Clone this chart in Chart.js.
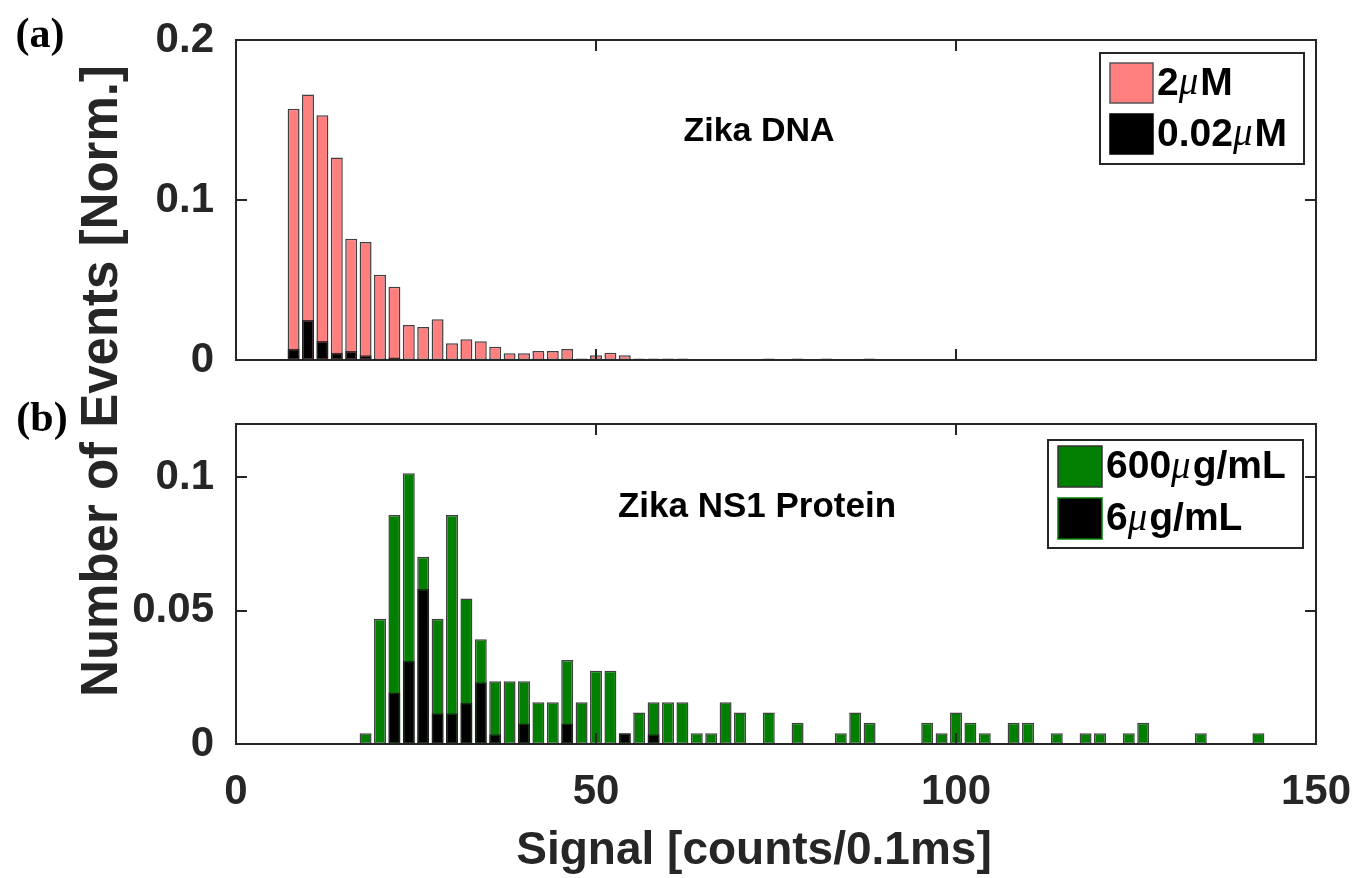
<!DOCTYPE html>
<html>
<head>
<meta charset="utf-8">
<script src="https://cdn.jsdelivr.net/npm/chart.js@4.4.1/dist/chart.umd.min.js"></script>
<style>
  html, body { margin: 0; padding: 0; background: #fff; }
  #wrap { position: relative; width: 1356px; height: 878px; }
  canvas { position: absolute; left: 0; top: 0; }
</style>
</head>
<body>
<div id="wrap">
  <canvas id="bottomChart" width="1356" height="878"></canvas>
  <canvas id="topChart" width="1356" height="400"></canvas>
</div>
<script>
// ---- data (bin centres in counts/0.1ms, width 2) ----
const xTicks = [0, 50, 100, 150];
const yTicksA = [0, 0.1, 0.2];
const yTicksB = [0, 0.05, 0.1];

// (a) Zika DNA
const dnaBins = [8, 10, 12, 14, 16, 18, 20, 22, 24, 26, 28, 30, 32, 34, 36, 38, 40, 42, 44, 46,
                 48, 50, 52, 54, 56, 58, 60, 62, 74, 78, 82, 88];
const dna2uM = [0.157, 0.166, 0.153, 0.1265, 0.0758, 0.0738, 0.0533, 0.0458, 0.0219, 0.0206,
                0.0254, 0.0104, 0.0129, 0.0117, 0.0083, 0.0042, 0.0042, 0.0056, 0.0056, 0.0069,
                0.001, 0.003, 0.0046, 0.003, 0.001, 0.001, 0.001, 0.001, 0.001, 0.001, 0.001, 0.001];
const dnaLowBins = [8, 10, 12, 14, 16, 18, 22];
const dna002uM = [0.0071, 0.025, 0.0119, 0.0046, 0.0056, 0.003, 0.0015];

// (b) Zika NS1 protein
const ns1Bins = [18, 20, 22, 24, 26, 28, 30, 32, 34, 36, 38, 40, 42, 44, 46, 48, 50, 52, 54, 56,
                 58, 60, 62, 64, 66, 68, 70, 74, 78, 84, 86, 88, 96, 98, 100, 102, 104, 108, 110,
                 114, 118, 120, 124, 126, 134, 142];
const ns1High = [0.004, 0.047, 0.0859, 0.1015, 0.0702, 0.047, 0.0859, 0.0546, 0.0393, 0.0235,
                 0.0235, 0.0235, 0.0157, 0.0157, 0.0315, 0.0157, 0.0275, 0.0275, 0.004, 0.0118,
                 0.0157, 0.0157, 0.0157, 0.004, 0.004, 0.0157, 0.0118, 0.0118, 0.008, 0.004,
                 0.0118, 0.008, 0.008, 0.004, 0.0118, 0.008, 0.004, 0.008, 0.008,
                 0.004, 0.004, 0.004, 0.004, 0.008, 0.004, 0.004];
const ns1LowBins = [22, 24, 26, 28, 30, 32, 34, 36, 40, 46, 54, 58];
const ns1Low = [0.0193, 0.0312, 0.0581, 0.0115, 0.0115, 0.0155, 0.0232, 0.0037, 0.0077, 0.0077,
                0.004, 0.0037];

const pink = '#ff7f7f';
const green = '#007f00';
const edge = 'rgba(30,30,30,0.85)';
const axisColor = '#262626';

function pts(xs, ys) {
  return xs.map((x, i) => ({ x: x, y: ys[i] }));
}

// text with an italic mu, like MATLAB's \mu
function drawRich(ctx, text, x, y, size) {
  let cx = x;
  text.split(/(μ)/).forEach(p => {
    if (!p) return;
    ctx.font = p === 'μ' ? `italic ${size}px "Liberation Serif"` : `bold ${size}px "Liberation Sans"`;
    ctx.fillText(p, cx, y);
    cx += ctx.measureText(p).width + (p === 'μ' ? 2 : 0);
  });
}

// box frame with inward tick marks on all four sides
const framePlugin = {
  id: 'frame',
  afterDatasetsDraw(chart) {
    const { ctx, chartArea: a, scales } = chart;
    const tl = 11;
    ctx.save();
    ctx.strokeStyle = axisColor;
    ctx.lineWidth = 2;
    ctx.beginPath();
    scales.x.ticks.forEach(t => {
      const px = Math.round(scales.x.getPixelForValue(t.value));
      ctx.moveTo(px, a.bottom); ctx.lineTo(px, a.bottom - tl);
      ctx.moveTo(px, a.top); ctx.lineTo(px, a.top + tl);
    });
    scales.y.ticks.forEach(t => {
      const py = Math.round(scales.y.getPixelForValue(t.value));
      ctx.moveTo(a.left, py); ctx.lineTo(a.left + tl, py);
      ctx.moveTo(a.right, py); ctx.lineTo(a.right - tl, py);
    });
    ctx.stroke();
    ctx.strokeRect(a.left, a.top, a.right - a.left, a.bottom - a.top);
    ctx.restore();
  }
};

// boxed legend inside the axes
const boxLegend = {
  id: 'boxLegend',
  afterDraw(chart, args, o) {
    const ctx = chart.ctx;
    ctx.save();
    ctx.fillStyle = '#fff';
    ctx.fillRect(o.x, o.y, o.w, o.h);
    ctx.strokeStyle = axisColor;
    ctx.lineWidth = 2;
    ctx.strokeRect(o.x, o.y, o.w, o.h);
    chart.data.datasets.forEach((ds, i) => {
      const sy = o.rowY + i * o.pitch;
      ctx.fillStyle = ds.backgroundColor;
      ctx.fillRect(o.sx, sy, o.sw, o.sh);
      ctx.lineWidth = 1.5;
      ctx.strokeStyle = o.swatchEdge[i];
      ctx.strokeRect(o.sx, sy, o.sw, o.sh);
      ctx.fillStyle = '#000';
      ctx.textAlign = 'left';
      ctx.textBaseline = 'middle';
      drawRich(ctx, ds.label, o.sx + o.sw + 4, sy + o.sh / 2 + 1, o.size);
    });
    ctx.restore();
  }
};

// free texts (panel letters, annotations, axis titles)
const notes = {
  id: 'notes',
  afterDraw(chart, args, o) {
    const ctx = chart.ctx;
    ctx.save();
    ctx.textBaseline = 'middle';
    (o.items || []).forEach(it => {
      ctx.font = it.font;
      ctx.fillStyle = it.color || '#000';
      ctx.save();
      ctx.translate(it.x, it.y);
      if (it.rotate) ctx.rotate(it.rotate);
      ctx.textAlign = it.align || 'center';
      ctx.fillText(it.text, 0, 0);
      ctx.restore();
    });
    ctx.restore();
  }
};

const tickFont = { family: '"Liberation Sans", Arial, sans-serif', size: 42, weight: 'bold' };

function barDefaults() {
  return {
    grouped: false,
    barPercentage: 0.83,
    categoryPercentage: 1,
    borderWidth: 1.5,
    borderColor: edge,
    borderSkipped: false
  };
}

// ---- (a) top panel ----
new Chart(document.getElementById('topChart'), {
  type: 'bar',
  data: {
    datasets: [
      { label: '2μM', data: pts(dnaBins, dna2uM), backgroundColor: pink, order: 2 },
      { label: '0.02μM', data: pts(dnaLowBins, dna002uM), backgroundColor: '#000', order: 1 }
    ]
  },
  options: {
    responsive: false,
    animation: false,
    layout: { padding: { top: 40, right: 40, left: 0, bottom: 0 } },
    datasets: { bar: barDefaults() },
    plugins: {
      legend: { display: false },
      tooltip: { enabled: false },
      boxLegend: { x: 1100, y: 53, w: 204, h: 111, sx: 1110, rowY: 63, pitch: 51, sw: 43, sh: 40,
                   size: 39, swatchEdge: ['#555', '#000'] },
      notes: { items: [
        { text: 'Zika DNA', x: 759, y: 132, font: 'bold 34px "Liberation Sans"' }
      ] }
    },
    scales: {
      x: {
        type: 'linear', min: 0, max: 150, offset: false,
        afterBuildTicks: s => { s.ticks = xTicks.map(v => ({ value: v })); },
        ticks: { display: false },
        grid: { display: false },
        border: { display: false },
        afterFit: s => { s.height = 40; s.paddingLeft = 0; s.paddingRight = 0; }
      },
      y: {
        min: 0, max: 0.2,
        afterBuildTicks: s => { s.ticks = yTicksA.map(v => ({ value: v })); },
        ticks: { font: tickFont, color: axisColor, padding: 14, callback: v => String(v) },
        grid: { display: false },
        border: { display: false },
        afterFit: s => { s.width = 236; }
      }
    }
  },
  plugins: [framePlugin, boxLegend, notes]
});

// ---- (b) bottom panel, canvas covers the full figure ----
new Chart(document.getElementById('bottomChart'), {
  type: 'bar',
  data: {
    datasets: [
      { label: '600μg/mL', data: pts(ns1Bins, ns1High), backgroundColor: green, order: 2 },
      { label: '6μg/mL', data: pts(ns1LowBins, ns1Low), backgroundColor: '#000', order: 1 }
    ]
  },
  options: {
    responsive: false,
    animation: false,
    layout: { padding: { top: 424, right: 40, left: 0, bottom: 0 } },
    datasets: { bar: barDefaults() },
    plugins: {
      legend: { display: false },
      tooltip: { enabled: false },
      boxLegend: { x: 1048, y: 440, w: 255, h: 108, sx: 1058, rowY: 446, pitch: 52, sw: 44, sh: 41,
                   size: 39, swatchEdge: ['#333', green] },
      notes: { items: [
        { text: 'Zika NS1 Protein', x: 757, y: 507, font: 'bold 35px "Liberation Sans"' },
        { text: '(a)', x: 40, y: 36, font: 'bold 42px "Liberation Serif"' },
        { text: '(b)', x: 42, y: 420, font: 'bold 42px "Liberation Serif"' },
        { text: 'Number of Events [Norm.]', x: 103, y: 381, rotate: -Math.PI / 2,
          font: 'bold 51px "Liberation Sans"', color: axisColor },
        { text: 'Signal [counts/0.1ms]', x: 754, y: 851,
          font: 'bold 46px "Liberation Sans"', color: axisColor }
      ] }
    },
    scales: {
      x: {
        type: 'linear', min: 0, max: 150, offset: false,
        afterBuildTicks: s => { s.ticks = xTicks.map(v => ({ value: v })); },
        ticks: { font: tickFont, color: axisColor, padding: 15, maxRotation: 0 },
        grid: { display: false },
        border: { display: false },
        afterFit: s => { s.height = 134; s.paddingLeft = 0; s.paddingRight = 0; }
      },
      y: {
        min: 0, max: 0.12,
        afterBuildTicks: s => { s.ticks = yTicksB.map(v => ({ value: v })); },
        ticks: { font: tickFont, color: axisColor, padding: 14, callback: v => String(v) },
        grid: { display: false },
        border: { display: false },
        afterFit: s => { s.width = 236; }
      }
    }
  },
  plugins: [framePlugin, boxLegend, notes]
});
</script>
</body>
</html>
